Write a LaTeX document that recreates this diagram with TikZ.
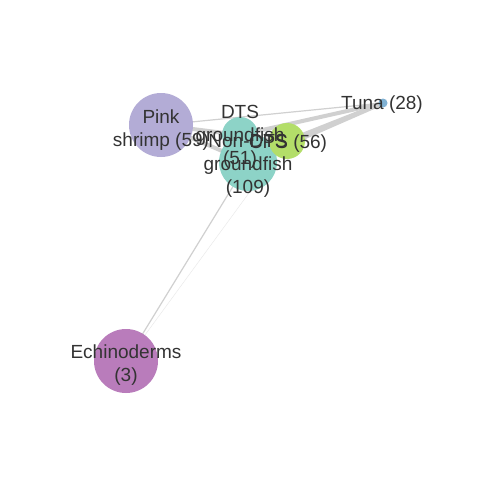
\documentclass[tikz,border=0pt]{standalone}
\usepackage{fontspec}
\setmainfont{Liberation Sans}
\definecolor{edgegray}{RGB}{208,208,208}
\definecolor{labeltext}{RGB}{51,51,51}
\definecolor{lavender}{RGB}{179,172,214}
\definecolor{teal}{RGB}{141,211,199}
\definecolor{lime}{RGB}{179,222,105}
\definecolor{skyblue}{RGB}{128,177,211}
\definecolor{orchid}{RGB}{185,124,187}
\pgfdeclarelayer{edges}
\pgfsetlayers{edges,main}
\begin{document}
\begin{tikzpicture}[x=1pt,y=-1pt,
  blob/.style={circle, draw=none, inner sep=0pt, minimum size=#1},
  tag/.style={align=center, inner sep=0pt, text=labeltext,
    font=\fontsize{19}{23}\selectfont},
  link/.style={draw=edgegray, line width=#1},
  link/.default=1.2pt]
  % fishery nodes
  \node[blob=64pt, fill=lavender] (shrimp) at (161,125) {};
  \node[blob=58pt, fill=teal] (nondts) at (248,162) {};
  \node[blob=36pt, fill=teal] (dts) at (240,135) {};
  \node[blob=36pt, fill=lime] (cps) at (287,141) {};
  \node[blob=9pt, fill=skyblue] (tuna) at (383,103) {};
  \node[blob=64pt, fill=orchid] (echino) at (126,361) {};
  % connections between fisheries
  \begin{pgfonlayer}{edges}
    \fill[white] (0,0) rectangle (480,480);
    \draw[link] (tuna.center) -- (shrimp.center);
    \draw[link=4pt] (tuna.center) -- (dts.center);
    \draw[link=4pt] (tuna.center) -- (nondts.center);
    \draw[link=4pt] (tuna.center) -- (cps.center);
    \draw[link=4pt] (shrimp.center) -- (dts.center);
    \draw[link=4pt] (shrimp.center) -- (nondts.center);
    \draw[link=2pt] (shrimp.center) -- (cps.center);
    \draw[link] (echino.center) -- (nondts.center);
    \draw[link=0.4pt, draw opacity=0.5] (echino.center) -- (cps.center);
  \end{pgfonlayer}
  % labels
  \node[tag] (shrimplbl) at (161,130) {Pink\\shrimp (59)};
  \node[tag] (dtslbl) at (240,137) {DTS\\groundfish\\(51)};
  \node[tag] (nondtslbl) at (248,166) {Non-DTS\\groundfish\\(109)};
  \node[tag] (cpslbl) at (288,144) {CPS (56)};
  \node[tag] (tunalbl) at (382,105) {Tuna (28)};
  \node[tag] (echinolbl) at (126,365) {Echinoderms\\(3)};
\end{tikzpicture}
\end{document}
